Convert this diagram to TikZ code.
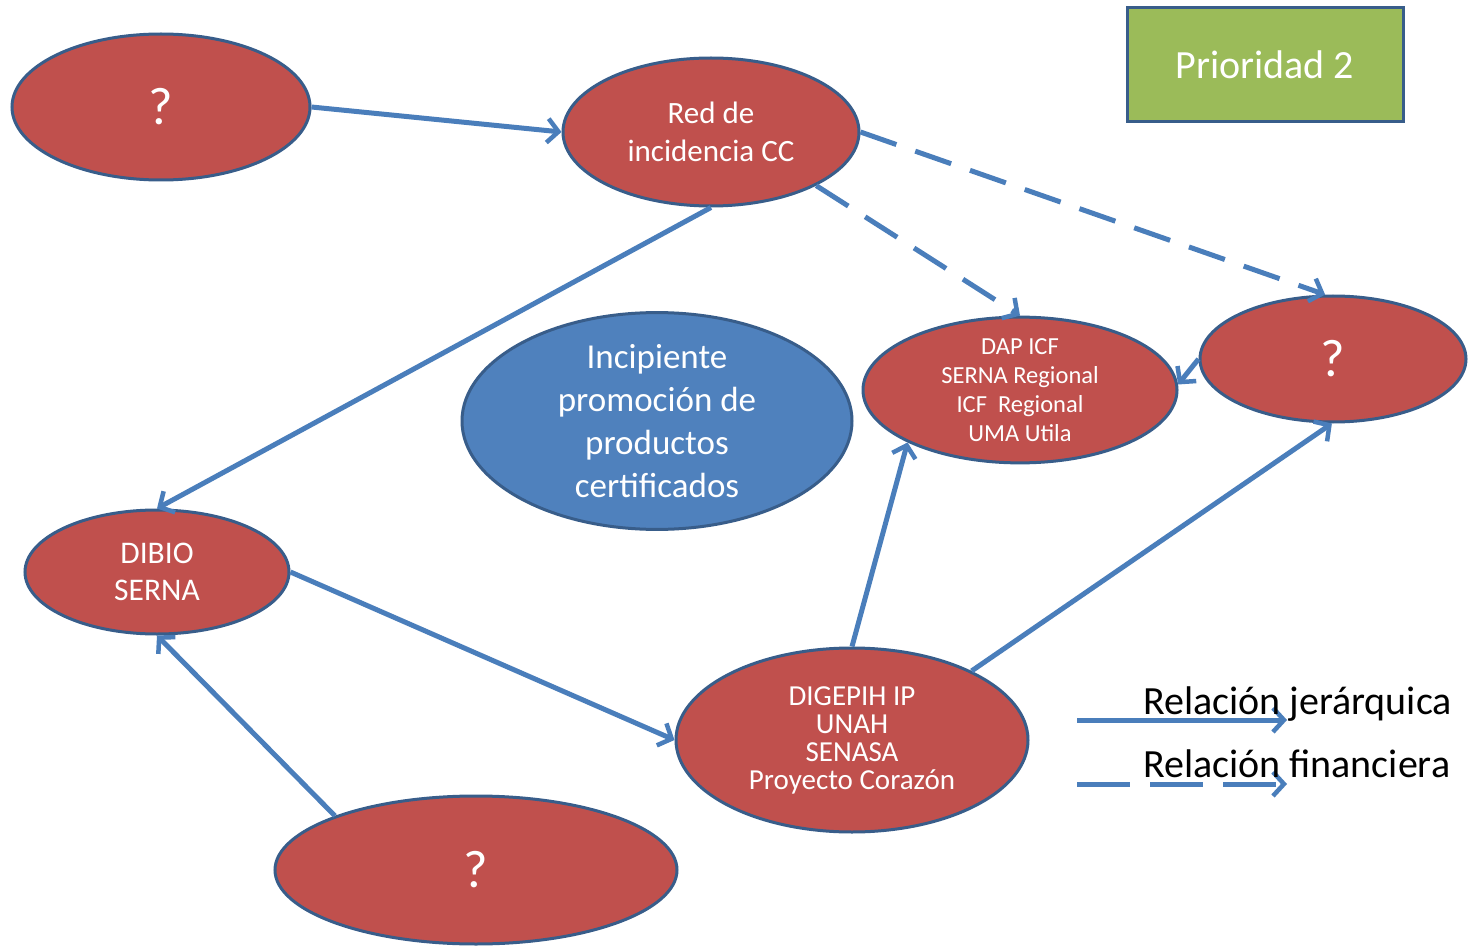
\documentclass[tikz,border=0pt]{standalone}
\usepackage{fontspec}
\setmainfont{Carlito}
\usetikzlibrary{shapes.geometric,arrows.meta}
\definecolor{nodered}{HTML}{C0504D}
\definecolor{nodeborder}{HTML}{385D8A}
\definecolor{nodeblue}{HTML}{4F81BD}
\definecolor{boxgreen}{HTML}{9BBB59}
\definecolor{arrowblue}{HTML}{4A7EBB}
\tikzset{
  oval/.style={ellipse, draw=nodeborder, line width=3pt, fill=nodered, text=white, inner sep=0pt, align=center},
  link/.style={draw=arrowblue, line width=5pt, -{Straight Barb[length=11pt,width=24pt,line width=4.5pt]}},
  fin/.style={link, dash pattern=on 38pt off 20pt},
  legfin/.style={link, dash pattern=on 53pt off 20pt},
  qfont/.style={font=\fontsize{53}{60}\selectfont},
}
\begin{document}
\begin{tikzpicture}[x=1pt,y=-1pt]
\useasboundingbox (0,0) rectangle (1476,952);
\fill[white] (0,0) rectangle (1476,952);
% nodes
\node[oval, qfont, minimum width=298pt, minimum height=146pt] (q1) at (161,107) {?};
\node[oval, minimum width=296pt, minimum height=148pt, font=\fontsize{31}{38}\selectfont] (red) at (711,132) {Red de\\incidencia\ CC};
\node[oval, qfont, minimum width=266pt, minimum height=126pt] (qr) at (1333,359) {?};
\node[oval, minimum width=314pt, minimum height=136pt, font=\fontsize{24.5}{29}\selectfont] (dap) at (1020,390) {DAP ICF\\SERNA Regional\\ICF\ \ Regional\\UMA Utila};
\node[oval, fill=nodeblue, minimum width=390pt, minimum height=200pt, font=\fontsize{35}{43}\selectfont] (blue) at (657,421) {Incipiente\\promoción de\\productos\\certificados};
\node[oval, minimum width=264pt, minimum height=124pt, font=\fontsize{31.5}{37}\selectfont] (dibio) at (157,572) {DIBIO\\SERNA};
\node[oval, minimum width=352pt, minimum height=184pt, font=\fontsize{29}{28}\selectfont] (dig) at (852,740) {DIGEPIH IP\\UNAH\\SENASA\\Proyecto Corazón};
\node[oval, qfont, minimum width=402pt, minimum height=148pt] (qb) at (476,870) {?};
\node[draw=nodeborder, line width=3pt, fill=boxgreen, text=white, minimum width=276pt, minimum height=114pt, font=\fontsize{40}{46}\selectfont] (prio) at (1265,65) {Prioridad 2};
% connectors
\draw[link] (q1.east) -- (red.west);
\draw[fin] (red.east) -- (qr.97);
\draw[fin] (red.-27) -- (dap.north);
\draw[link] (red.south) -- (dibio.north);
\draw[link] (qr.west) -- (dap.2);
\draw[link] (dibio.east) -- (dig.west);
\draw[link] (qb.159) -- (dibio.south);
\draw[link] (dig.north) -- (dap.-155);
\draw[link] (dig.30) -- (qr.-91);
% legend
\coordinate (l1a) at (1077,720);
\coordinate (l1b) at (1287,720);
\coordinate (l2a) at (1077,784);
\coordinate (l2b) at (1287,784);
\draw[link] (l1a) -- (l1b);
\draw[legfin] (l2a) -- (l2b);
\node[anchor=west, font=\fontsize{40}{46}\selectfont, inner sep=0pt] (lt1) at (1143,704) {Relación jerárquica};
\node[anchor=west, font=\fontsize{40}{46}\selectfont, inner sep=0pt] (lt2) at (1143,764) {Relación financiera};
\end{tikzpicture}
\end{document}
